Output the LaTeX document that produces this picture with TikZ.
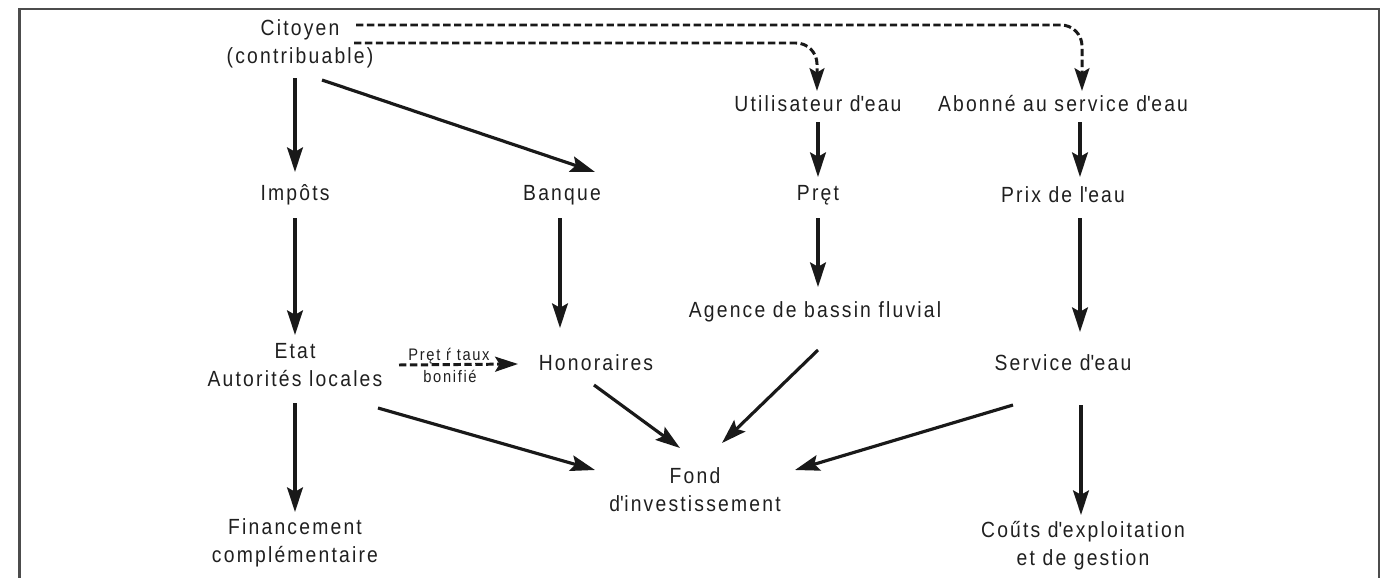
\documentclass[tikz,border=0pt]{standalone}
\usepackage{fontspec}
\setmainfont{Liberation Sans}[FakeStretch=0.88, LetterSpace=10]
\usetikzlibrary{arrows.meta}
\newcommand{\q}{\textquotesingle}
\begin{document}
\begin{tikzpicture}[x=0.02cm,y=-0.02cm,
  lbl/.style={align=center, inner sep=0pt, text=black!88, font=\fontsize{12.5}{15.9}\selectfont},
  small/.style={inner sep=0pt, text=black!88, font=\fontsize{9.5}{10}\selectfont},
  arr/.style={line width=1.8pt, -{Stealth[length=14pt,width=9pt,inset=2.5pt]}, black!90},
  dsh/.style={line width=1.7pt, dash pattern=on 4.2pt off 2pt, rounded corners=12pt, -{Stealth[length=13pt,width=8.5pt,inset=2.5pt]}, black!90}]
\useasboundingbox (0,0) rectangle (1386,578);
\draw[gray!60!black, line width=1.2pt] (19.5,580) -- (19.5,9) -- (1379,9) -- (1379,580);

\node[lbl] (cit) at (300,44) {Citoyen\\(contribuable)};
\node[lbl] (imp) at (295,195) {Impôts};
\node[lbl] (ban) at (562,195) {Banque};
\node[lbl] (uti) at (818,104) {Utilisateur d\q eau};
\node[lbl] (abo) at (1063,104) {Abonné au service d\q eau};
\node[lbl] (pret) at (818,195) {Pręt};
\node[lbl] (prix) at (1063,195) {Prix de l\q eau};
\node[lbl] (age) at (815,312) {Agence de bassin fluvial};
\node[lbl] (etat) at (295,365) {Etat\\Autorités locales};
\node[lbl] (hon) at (596,363) {Honoraires};
\node[lbl] (serv) at (1063,363) {Service d\q eau};
\node[lbl] (fond) at (695,490) {Fond\\d\q investissement};
\node[lbl] (fin) at (295,543) {Financement\\complémentaire};
\node[lbl] (cout) at (1083,546) {Coűts d\q exploitation\\et de gestion};
\node[small] (lab1) at (449,356) {Pręt ŕ  taux};
\node[small] (lab2) at (450,376) {bonifié};

\draw[arr] ([shift={(-5,34)}]cit.center) -- ([shift={(0,-23)}]imp.center);
\draw[arr] ([shift={(22,36)}]cit.center) -- ([shift={(33,-23)}]ban.center);
\draw[arr] ([shift={(0,23)}]imp.center) -- ([shift={(0,-30)}]etat.center);
\draw[arr] ([shift={(-2,23)}]ban.center) -- ([shift={(-36,-35)}]hon.center);
\draw[arr] ([shift={(0,18)}]uti.center) -- ([shift={(0,-18)}]pret.center);
\draw[arr] ([shift={(17,18)}]abo.center) -- ([shift={(17,-18)}]prix.center);
\draw[arr] ([shift={(0,23)}]pret.center) -- ([shift={(3,-25)}]age.center);
\draw[arr] ([shift={(17,23)}]prix.center) -- ([shift={(17,-31)}]serv.center);
\draw[arr] ([shift={(3,38)}]age.center) -- ([shift={(27,-47)}]fond.center);
\draw[arr] ([shift={(-2,22)}]hon.center) -- ([shift={(-15,-42)}]fond.center);
\draw[arr] ([shift={(83,43)}]etat.center) -- ([shift={(-100,-20)}]fond.center);
\draw[arr] ([shift={(-50,42)}]serv.center) -- ([shift={(100,-20)}]fond.center);
\draw[arr] ([shift={(18,42)}]serv.center) -- ([shift={(-2,-31)}]cout.center);
\draw[arr] ([shift={(0,38)}]etat.center) -- ([shift={(0,-31)}]fin.center);
\draw[dsh] ([shift={(104,0)}]etat.center) -- ([shift={(-78,1)}]hon.center);

\draw[dsh] ([shift={(56,-19)}]cit.center) -| ([shift={(19,-13)}]abo.center);
\draw[dsh] ([shift={(54,-1)}]cit.center) -| ([shift={(-1,-13)}]uti.center);
\end{tikzpicture}
\end{document}
